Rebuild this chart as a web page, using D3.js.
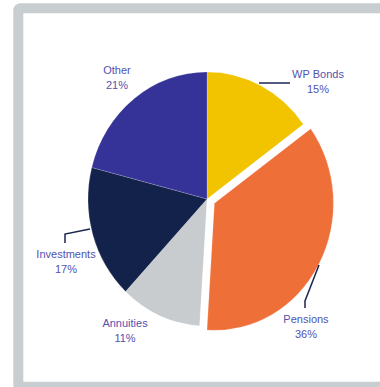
<!DOCTYPE html>
<html>
<head>
<meta charset="utf-8">
<script src="https://cdn.jsdelivr.net/npm/d3@7"></script>
<style>
  html, body { margin: 0; padding: 0; background: #fff; }
  svg { display: block; }
  text { font-family: "Liberation Sans", Arial, sans-serif; }
</style>
</head>
<body>
<svg id="chart" width="380" height="387"></svg>
<script>
// Portfolio breakdown, percent of total
const categories = ["WP Bonds", "Pensions", "Annuities", "Investments", "Other"];
const shares = [15, 36, 11, 17, 21];
const sliceColors = ["#f2c400", "#ef6f38", "#c8ccce", "#13224b", "#353398"];
const explodedSlice = "Pensions";

// Label placement (label centre, leader line points relative to the pie centre)
const labelLayout = [
  { x: 111, y: -121, leader: [[52, -116], [83, -116]] },
  { x: 99, y: 124, leader: [[112, 66], [98, 102], [98, 109]] },
  { x: -82, y: 128, leader: null },
  { x: -141, y: 59, leader: [[-117, 30], [-142, 35], [-142, 44]] },
  { x: -90, y: -125, leader: null }
];

const svg = d3.select("#chart");

// Frame
svg.append("rect")
  .attr("x", 18.3).attr("y", 8.3)
  .attr("width", 420).attr("height", 378.4)
  .attr("rx", 2)
  .attr("fill", "#fff")
  .attr("stroke", "#c8cdcf")
  .attr("stroke-width", 10);

const cx = 207, cy = 199;
const rx = 119, ry = 127;

const pie = d3.pie().sort(null).value(d => d.value).startAngle(0).endAngle(2 * Math.PI);
const data = categories.map((c, i) => ({ name: c, value: shares[i], color: sliceColors[i], layout: labelLayout[i] }));
const arcs = pie(data);
const arc = d3.arc().innerRadius(0).outerRadius(rx);

const g = svg.append("g")
  .attr("transform", `translate(${cx},${cy}) scale(1,${ry / rx})`);

g.selectAll("path.slice")
  .data(arcs)
  .join("path")
  .attr("class", "slice")
  .attr("d", arc)
  .attr("fill", d => d.data.color)
  .attr("stroke", "#ffffff")
  .attr("stroke-opacity", 0.45)
  .attr("stroke-width", 0.4)
  .attr("vector-effect", "non-scaling-stroke")
  .attr("transform", d => {
    if (d.data.name !== explodedSlice) return null;
    const mid = (d.startAngle + d.endAngle) / 2;
    const off = 8.5;
    return `translate(${Math.sin(mid) * off},${-Math.cos(mid) * off})`;
  });

// Leader lines and labels (unscaled layer)
const lg = svg.append("g").attr("transform", `translate(${cx},${cy})`);

lg.selectAll("path.leader")
  .data(arcs.filter(d => d.data.layout.leader))
  .join("path")
  .attr("class", "leader")
  .attr("d", d => d3.line()(d.data.layout.leader))
  .attr("fill", "none")
  .attr("stroke", "#1b2550")
  .attr("stroke-width", 1.5);

const labels = lg.selectAll("text.label")
  .data(arcs)
  .join("text")
  .attr("class", "label")
  .attr("text-anchor", "middle")
  .attr("fill", "#5252b0")
  .attr("font-size", 11)
  .attr("x", d => d.data.layout.x)
  .attr("y", d => d.data.layout.y);

labels.append("tspan")
  .attr("x", d => d.data.layout.x)
  .text(d => d.data.name);

labels.append("tspan")
  .attr("x", d => d.data.layout.x)
  .attr("dy", 15)
  .text(d => d.data.value + "%");
</script>
</body>
</html>
